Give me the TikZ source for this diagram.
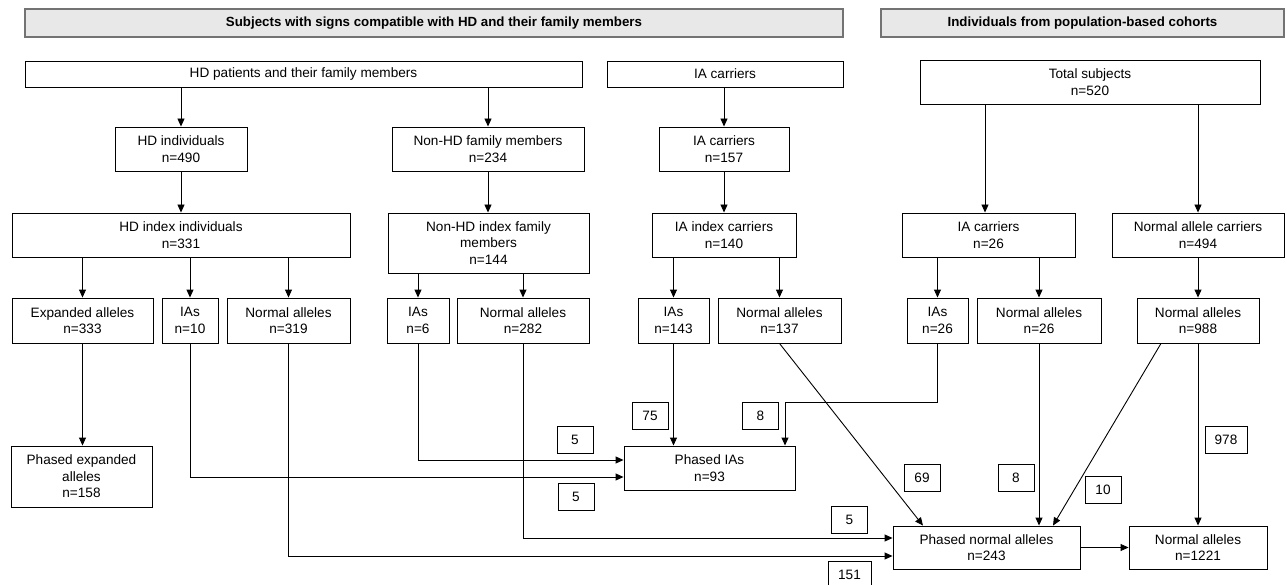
\documentclass[tikz,border=0pt]{standalone}
\usepackage{fontspec}
\setmainfont{Liberation Sans}
\usetikzlibrary{arrows.meta}
\tikzset{
  bx/.style={draw, line width=0.9pt, inner sep=0pt, align=center, font=\fontsize{13.6}{16.5}\selectfont},
  hdrbox/.style={draw=black!55, fill=black!9, line width=1.2pt, inner sep=0pt, font=\bfseries\fontsize{13.3}{16}\selectfont},
  lab/.style={bx, minimum width=36, minimum height=27},
  arr/.style={line width=0.9pt, -{Triangle[length=8pt,width=7pt]}},
  ln/.style={line width=0.9pt},
}
\newcommand\BX[6]{\node[bx, minimum width={(#4)-(#2)}, minimum height={(#5)-(#3)}] (#1) at ({((#2)+(#4))/2},{((#3)+(#5))/2}) {#6};}
\begin{document}
\begin{tikzpicture}[x=1pt,y=-1pt]
\useasboundingbox (0,0) rectangle (1287,585);
% headers
\node[hdrbox, minimum width=818, minimum height=28] (h1) at (434,23) {Subjects with signs compatible with HD and their family members};
\node[hdrbox, minimum width=403, minimum height=28] (h2) at (1082.5,23) {Individuals from population-based cohorts};
% row 1
\BX{hdp}{25}{61}{582}{87}{HD patients and their family members}
\BX{iac0}{607}{61}{843}{87}{IA carriers}
\BX{tot}{920}{60}{1260}{104}{Total subjects\\n=520}
% row 2
\BX{hdi}{115}{127}{247}{171}{HD individuals\\n=490}
\BX{nhd}{392}{127}{584}{171}{Non-HD family members\\n=234}
\BX{iac1}{659}{127}{789}{171}{IA carriers\\n=157}
% row 3
\BX{hdx}{12}{213}{350}{257}{HD index individuals\\n=331}
\BX{nhx}{388}{213}{589}{273}{Non-HD index family\\members\\n=144}
\BX{iax}{652}{213}{796}{257}{IA index carriers\\n=140}
\BX{ia26}{902}{213}{1075}{257}{IA carriers\\n=26}
\BX{nac}{1112}{213}{1284}{257}{Normal allele carriers\\n=494}
% row 4
\BX{exp}{12}{298}{153}{343}{Expanded alleles\\n=333}
\BX{ia10}{162}{298}{218}{343}{IAs\\n=10}
\BX{n319}{227}{298}{350}{343}{Normal alleles\\n=319}
\BX{ia6}{387}{298}{449}{343}{IAs\\n=6}
\BX{n282}{457}{298}{589}{343}{Normal alleles\\n=282}
\BX{ia143}{638}{298}{709}{343}{IAs\\n=143}
\BX{n137}{718}{298}{841}{343}{Normal alleles\\n=137}
\BX{ia26b}{907}{298}{968}{343}{IAs\\n=26}
\BX{n26}{977}{298}{1101}{343}{Normal alleles\\n=26}
\BX{n988}{1137}{298}{1259}{343}{Normal alleles\\n=988}
% results
\BX{pexp}{11}{446}{152}{507}{Phased expanded\\alleles\\n=158}
\BX{pia}{624}{446}{795}{490}{Phased IAs\\n=93}
\BX{pnorm}{893}{526}{1080}{569}{Phased normal alleles\\n=243}
\BX{n1221}{1129}{526}{1267}{569}{Normal alleles\\n=1221}
% number labels
\node[lab] (l5a) at (575,439.5) {5};
\node[lab] (l5b) at (576,496.5) {5};
\node[lab] (l75) at (650,415.5) {75};
\node[lab] (l8a) at (760.5,415.5) {8};
\node[lab] (l69) at (922,477.5) {69};
\node[lab] (l8b) at (1016,477.5) {8};
\node[lab] (l10) at (1103,490) {10};
\node[lab, minimum width=42] (l978) at (1226,440) {978};
\node[lab] (l5c) at (849.5,520) {5};
\node[lab, minimum width=43] (l151) at (849.5,574.5) {151};
% connectors rows 1-3
\draw[arr] (hdi.north |- hdp.south) -- (hdi.north);
\draw[arr] (nhd.north |- hdp.south) -- (nhd.north);
\draw[arr] (iac1.north |- iac0.south) -- (iac1.north);
\draw[arr] (hdi.south) -- (hdi.south |- hdx.north);
\draw[arr] (nhd.south) -- (nhd.south |- nhx.north);
\draw[arr] (iac1.south) -- (iac1.south |- iax.north);
\draw[arr] ([xshift=-3.5pt]ia26.north |- tot.south) -- ([xshift=-3.5pt]ia26.north);
\draw[arr] (nac.north |- tot.south) -- (nac.north);
% row 3 -> 4
\foreach \c/\p in {exp/hdx, ia10/hdx, n319/hdx, ia6/nhx, n282/nhx, ia143/iax, n137/iax, ia26b/ia26, n26/ia26, n988/nac}
  \draw[arr] (\c.north |- \p.south) -- (\c.north);
% lower connectors
\draw[arr] (exp.south) -- (exp.south |- pexp.north);
\draw[arr] (ia10.south) |- ([yshift=-9pt]pia.west);
\draw[arr] (ia6.south) |- ([yshift=8pt]pia.west);
\draw[arr] (n319.south) |- ([yshift=-8.5pt]pnorm.west);
\draw[arr] (n282.south) |- ([yshift=9.5pt]pnorm.west);
\draw[arr] (ia143.south) -- (ia143.south |- pia.north);
\coordinate (t1) at (785,402);
\draw[arr] (ia26b.south) |- (t1) -- (t1 |- pia.north);
\draw[arr] (n137.south) -- ([xshift=-63.5pt]pnorm.north);
\draw[arr] (n26.south) -- (n26.south |- pnorm.north);
\draw[arr] ([xshift=-37pt]n988.south) -- ([xshift=66.5pt]pnorm.north);
\draw[arr] (n988.south) -- (n1221.north);
\draw[arr] (pnorm.east) -- (n1221.west);
\end{tikzpicture}
\end{document}
